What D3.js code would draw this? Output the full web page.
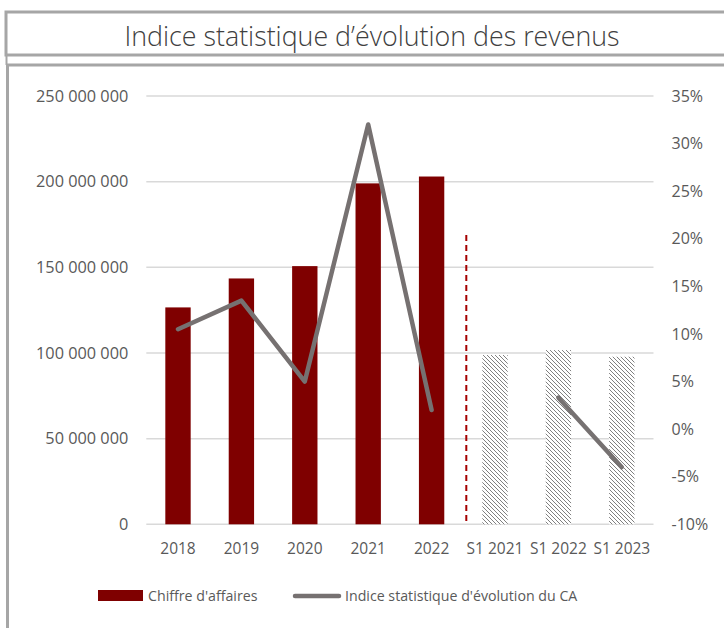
<!DOCTYPE html>
<html>
<head>
<meta charset="utf-8">
<script src="https://cdn.jsdelivr.net/npm/d3@7"></script>
<style>
  html, body { margin: 0; padding: 0; background: #fff; }
  svg { display: block; }
  text { font-family: "Open Sans", "Noto Sans", sans-serif; fill: #595959; }
</style>
</head>
<body>
<svg id="chart" width="724" height="628"></svg>
<script>
// ---- data ----
const categories = ["2018", "2019", "2020", "2021", "2022", "S1 2021", "S1 2022", "S1 2023"];
const annualCategories = ["2018", "2019", "2020", "2021", "2022"];
const annualRevenue = [126600000, 143500000, 150700000, 199000000, 203000000];
const halfCategories = ["S1 2021", "S1 2022", "S1 2023"];
const halfRevenue = [98800000, 101700000, 97800000];
const annualIndex = [0.105, 0.135, 0.05, 0.32, 0.02];
const halfIndexCategories = ["S1 2022", "S1 2023"];
const halfIndex = [0.033, -0.04];
const separatorValue = 168800000;
const leftTicks = [0, 50000000, 100000000, 150000000, 200000000, 250000000];
const rightTicks = [-0.10, -0.05, 0, 0.05, 0.10, 0.15, 0.20, 0.25, 0.30, 0.35];
const title = "Indice statistique d\u2019évolution des revenus";
const legendLabels = ["Chiffre d'affaires", "Indice statistique d'évolution du CA"];

// ---- setup ----
const svg = d3.select("#chart");
const barColor = "#7f0000";
const lineColor = "#767171";
const gridColor = "#d9d9d9";
const frameColor = "#a6a6a6";

// frames
svg.append("rect").attr("x", 6).attr("y", 12).attr("width", 740).attr("height", 43)
  .attr("fill", "none").attr("stroke", frameColor).attr("stroke-width", 3);
svg.append("rect").attr("x", 7.5).attr("y", 65).attr("width", 740).attr("height", 600)
  .attr("fill", "none").attr("stroke", frameColor).attr("stroke-width", 3);
svg.append("line").attr("x1", 6.5).attr("x2", 6.5).attr("y1", 55).attr("y2", 65)
  .attr("stroke", frameColor).attr("stroke-width", 2);

// title
svg.append("text").attr("x", 372).attr("y", 46).attr("text-anchor", "middle")
  .style("font-size", "26.8px").style("font-weight", 300).style("fill", "#404040")
  .text(title);

// pattern
const defs = svg.append("defs");
const pat = defs.append("pattern").attr("id", "hatch").attr("patternUnits", "userSpaceOnUse")
  .attr("width", 4).attr("height", 4);
pat.append("rect").attr("width", 4).attr("height", 4).attr("fill", "#fff");
pat.append("path").attr("d", "M-1,-1 L5,5 M-1,3 L1,5 M3,-1 L5,1")
  .attr("stroke", "#808080").attr("stroke-width", 1);

// scales
const x0 = 146.3, x1 = 653.5, yBottom = 524.3, yTop = 96;
const x = d3.scaleBand().domain(categories).range([x0, x1]).paddingInner(0.6).paddingOuter(0.3);
const yL = d3.scaleLinear().domain([0, 250000000]).range([yBottom, yTop]);
const yR = d3.scaleLinear().domain([-0.10, 0.35]).range([yBottom, yTop]);

// gridlines
svg.append("g").selectAll("line").data(leftTicks).join("line")
  .attr("x1", x0).attr("x2", x1)
  .attr("y1", d => yL(d)).attr("y2", d => yL(d))
  .attr("stroke", gridColor).attr("stroke-width", 1.5);

// axes
const fmtL = d => d3.format(",")(d).replace(/,/g, " ");
const axL = svg.append("g").attr("transform", `translate(${x0 - 18},0)`)
  .call(d3.axisLeft(yL).tickValues(leftTicks).tickFormat(fmtL).tickSize(0).tickPadding(0));
const fmtR = d => Math.round(d * 100) + "%";
const axR = svg.append("g").attr("transform", `translate(${x1 + 18},0)`)
  .call(d3.axisRight(yR).tickValues(rightTicks).tickFormat(fmtR).tickSize(0).tickPadding(0));
const axB = svg.append("g").attr("transform", `translate(0,${yBottom})`)
  .call(d3.axisBottom(x).tickSize(0).tickPadding(19));
[axL, axR, axB].forEach(a => {
  a.select(".domain").remove();
  a.selectAll("text").style("font-family", "'Open Sans', sans-serif")
    .style("font-size", "15.5px").style("fill", "#595959");
});
axL.selectAll("text").style("font-size", "16.3px");
axR.selectAll("text").style("font-size", "16px");

// bars
svg.append("g").selectAll("rect").data(annualCategories).join("rect")
  .attr("x", d => x(d)).attr("width", x.bandwidth())
  .attr("y", (d, i) => yL(annualRevenue[i]))
  .attr("height", (d, i) => yL(0) - yL(annualRevenue[i]))
  .attr("fill", barColor);
svg.append("g").selectAll("rect").data(halfCategories).join("rect")
  .attr("x", d => x(d)).attr("width", x.bandwidth())
  .attr("y", (d, i) => yL(halfRevenue[i]))
  .attr("height", (d, i) => yL(0) - yL(halfRevenue[i]))
  .attr("fill", "url(#hatch)");

// separator dashed line
const sepX = x("S1 2021") - x.step() * x.paddingInner() / 2 + 3;
svg.append("line").attr("x1", sepX).attr("x2", sepX)
  .attr("y1", yL(separatorValue)).attr("y2", yL(0))
  .attr("stroke", "#a50000").attr("stroke-width", 2).attr("stroke-dasharray", "6,4");

// lines
const line = d3.line().x(d => x(d[0]) + x.bandwidth() / 2).y(d => yR(d[1]));
svg.append("path").datum(annualCategories.map((c, i) => [c, annualIndex[i]]))
  .attr("d", line).attr("fill", "none").attr("stroke", lineColor)
  .attr("stroke-width", 4.5).attr("stroke-linecap", "round").attr("stroke-linejoin", "round");
svg.append("path").datum(halfIndexCategories.map((c, i) => [c, halfIndex[i]]))
  .attr("d", line).attr("fill", "none").attr("stroke", lineColor)
  .attr("stroke-width", 4.5).attr("stroke-linecap", "round").attr("stroke-linejoin", "round");

// legend
const lg = svg.append("g");
lg.append("rect").attr("x", 98).attr("y", 590).attr("width", 45).attr("height", 11).attr("fill", barColor);
lg.append("text").attr("x", 148).attr("y", 596).attr("dy", "0.35em")
  .style("font-size", "14.2px").text(legendLabels[0]);
lg.append("line").attr("x1", 295).attr("x2", 339).attr("y1", 596).attr("y2", 596)
  .attr("stroke", lineColor).attr("stroke-width", 4.5).attr("stroke-linecap", "round");
lg.append("text").attr("x", 345).attr("y", 596).attr("dy", "0.35em")
  .style("font-size", "14.2px").text(legendLabels[1]);
</script>
</body>
</html>
